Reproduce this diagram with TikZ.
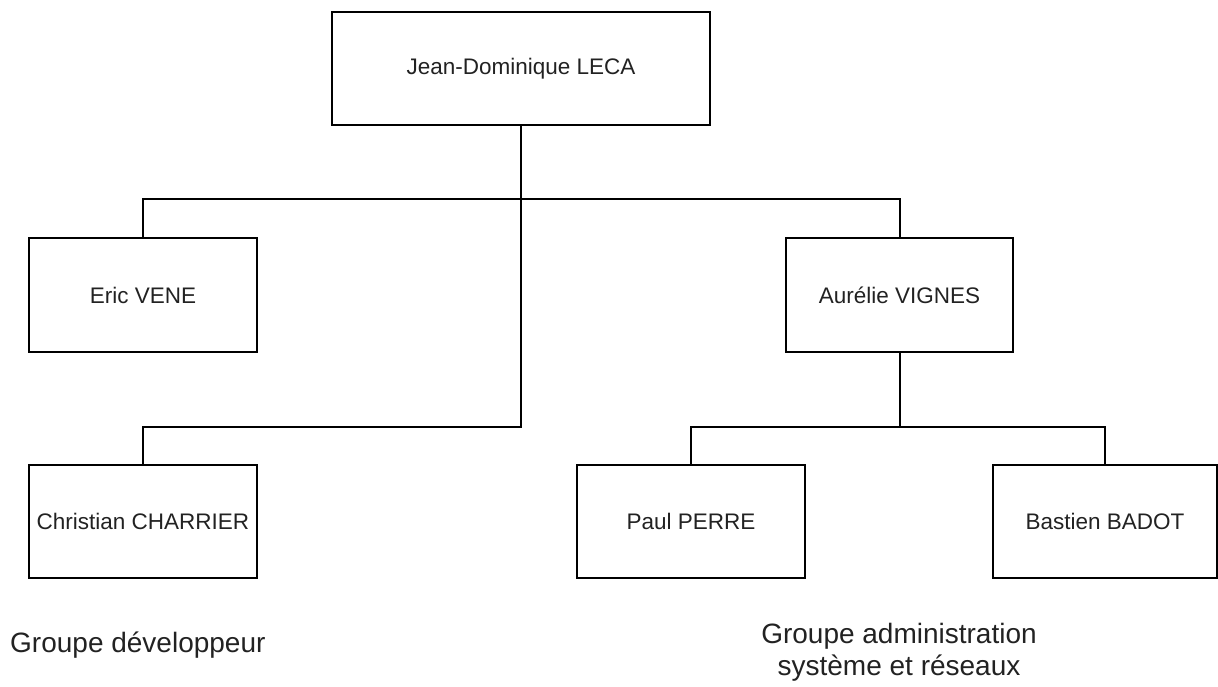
\documentclass[tikz,border=0pt]{standalone}
\usepackage{fontspec}
\setmainfont{Liberation Sans}
\definecolor{txt}{HTML}{222222}
\begin{document}
\begin{tikzpicture}[x=1pt,y=-1pt,
  person/.style={draw=black, line width=2pt, rectangle, inner sep=0pt,
    minimum width=228pt, minimum height=114pt, text=txt,
    font=\fontsize{22.5}{27}\selectfont},
  link/.style={draw=black, line width=2pt},
  grouplabel/.style={text=txt, inner sep=0pt, font=\fontsize{28}{32}\selectfont}]
\useasboundingbox (0,0) rectangle (1218,686);
\node[person, minimum width=378pt, minimum height=113pt] (leca) at (521,68.5) {Jean-Dominique LECA};
\node[person] (vene) at (143,295) {Eric VENE};
\node[person, minimum width=227pt] (vignes) at (899.5,295) {Aurélie VIGNES};
\node[person, minimum height=113pt] (charrier) at (143,521.5) {Christian CHARRIER};
\node[person, minimum height=113pt] (perre) at (691,521.5) {Paul PERRE};
\node[person, minimum width=224pt, minimum height=113pt] (badot) at (1105,521.5) {Bastien BADOT};
\coordinate (j2) at (521,427);
\coordinate (j3) at (899.5,427);
\draw[link] (leca.south) -- (j2) -| (charrier.north);
\draw[link] (vene.north) -- ++(0,-38) -| (vignes.north);
\draw[link] (vignes.south) -- (j3);
\draw[link] (perre.north) |- (j3) -| (badot.north);
\node[grouplabel, anchor=west] (dev) at (10,645) {Groupe développeur};
\node[grouplabel, align=center] (admin) at (899,652) {Groupe administration\\système et réseaux};
\end{tikzpicture}
\end{document}
